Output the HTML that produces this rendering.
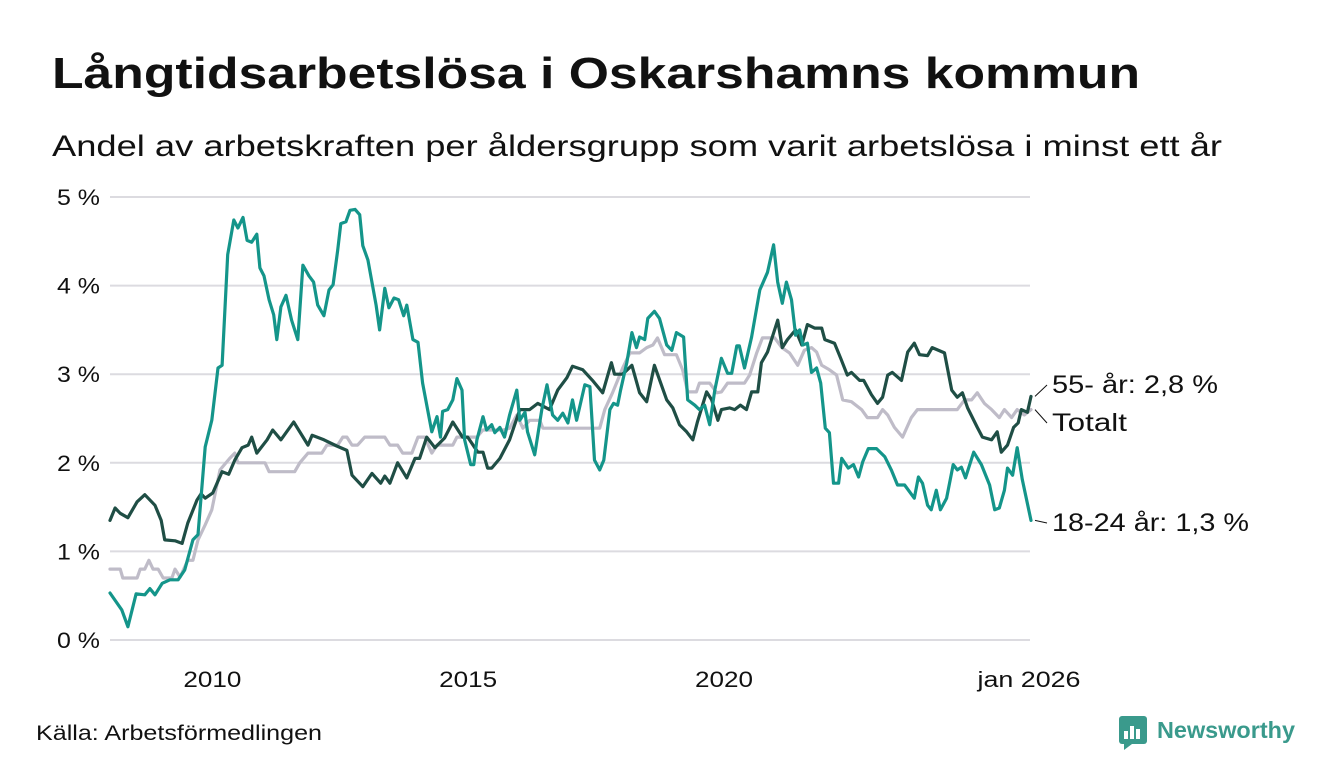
<!DOCTYPE html>
<html><head><meta charset="utf-8">
<style>
html,body{margin:0;padding:0;background:#fff;}
body{width:1340px;height:780px;overflow:hidden;font-family:"Liberation Sans","DejaVu Sans",sans-serif;color:#111;}
svg{display:block}
</style></head>
<body>
<svg id="chart" width="1340" height="780" viewBox="0 0 1340 780">
  <text x="52" y="88" font-size="44" font-weight="bold" fill="#111" textLength="1088" lengthAdjust="spacingAndGlyphs">Långtidsarbetslösa i Oskarshamns kommun</text>
  <text x="52" y="156" font-size="30" fill="#111" textLength="1170" lengthAdjust="spacingAndGlyphs">Andel av arbetskraften per åldersgrupp som varit arbetslösa i minst ett år</text>
  <g id="grid"></g>
  <g id="yticks"></g>
  <g id="xticks"></g>
  <g id="series"></g>
  <g id="labels"></g>
  <text x="36" y="740" font-size="21" fill="#111" textLength="286" lengthAdjust="spacingAndGlyphs">Källa: Arbetsförmedlingen</text>
  <g>
    <rect x="1119" y="716" width="28" height="28" rx="3" fill="#3a9a8c"/>
    <rect x="1124" y="731" width="4" height="8" fill="#fff"/>
    <rect x="1130" y="726" width="4" height="13" fill="#fff"/>
    <rect x="1136" y="729" width="4" height="10" fill="#fff"/>
    <polygon points="1124,744 1132,744 1124,750" fill="#3a9a8c"/>
    <text x="1157" y="738" font-size="23" font-weight="bold" fill="#3a9a8c" textLength="138" lengthAdjust="spacingAndGlyphs">Newsworthy</text>
  </g>
</svg>
<script>
const yTicks = [0,1,2,3,4,5];
const xTickYears = [2010,2015,2020,2026];
const xTickLabels = ["2010","2015","2020","jan 2026"];

const youngYears = [2008.00,2008.23,2008.35,2008.51,2008.68,2008.78,2008.88,2009.02,2009.17,2009.33,2009.46,2009.62,2009.72,2009.86,2009.99,2010.11,2010.19,2010.30,2010.42,2010.50,2010.60,2010.68,2010.77,2010.87,2010.93,2011.01,2011.11,2011.20,2011.26,2011.34,2011.44,2011.55,2011.67,2011.77,2011.89,2011.98,2012.06,2012.18,2012.28,2012.36,2012.45,2012.51,2012.61,2012.69,2012.79,2012.88,2012.94,2013.04,2013.20,2013.27,2013.37,2013.45,2013.55,2013.64,2013.74,2013.80,2013.92,2014.02,2014.11,2014.29,2014.39,2014.46,2014.50,2014.60,2014.70,2014.78,2014.88,2014.93,2015.05,2015.11,2015.17,2015.29,2015.36,2015.46,2015.52,2015.62,2015.71,2015.81,2015.95,2016.01,2016.11,2016.16,2016.30,2016.44,2016.54,2016.65,2016.75,2016.85,2016.95,2017.04,2017.12,2017.28,2017.38,2017.47,2017.57,2017.65,2017.77,2017.84,2017.92,2017.98,2018.10,2018.20,2018.29,2018.35,2018.45,2018.51,2018.64,2018.74,2018.88,2018.98,2019.07,2019.21,2019.29,2019.43,2019.52,2019.62,2019.72,2019.82,2019.95,2020.07,2020.15,2020.25,2020.30,2020.40,2020.54,2020.70,2020.85,2020.97,2021.05,2021.14,2021.22,2021.32,2021.40,2021.48,2021.54,2021.63,2021.71,2021.81,2021.89,2021.98,2022.06,2022.14,2022.24,2022.30,2022.43,2022.53,2022.63,2022.71,2022.82,2022.98,2023.14,2023.27,2023.39,2023.53,2023.72,2023.80,2023.88,2023.98,2024.05,2024.15,2024.23,2024.35,2024.48,2024.56,2024.64,2024.72,2024.88,2025.03,2025.19,2025.29,2025.38,2025.48,2025.54,2025.64,2025.73,2025.83,2026.00];
const youngValues = [0.53,0.34,0.15,0.52,0.51,0.58,0.51,0.64,0.68,0.68,0.79,1.13,1.19,2.18,2.48,3.07,3.10,4.35,4.74,4.65,4.77,4.51,4.49,4.58,4.20,4.11,3.84,3.67,3.39,3.76,3.89,3.61,3.39,4.23,4.11,4.04,3.78,3.66,3.95,4.01,4.40,4.70,4.72,4.85,4.86,4.80,4.45,4.29,3.78,3.50,3.97,3.75,3.86,3.84,3.66,3.78,3.39,3.36,2.90,2.35,2.52,2.29,2.58,2.60,2.71,2.95,2.82,2.26,1.98,1.98,2.26,2.52,2.37,2.43,2.34,2.40,2.29,2.54,2.82,2.48,2.57,2.35,2.09,2.60,2.88,2.54,2.48,2.56,2.45,2.71,2.48,2.88,2.86,2.03,1.92,2.03,2.60,2.67,2.65,2.82,3.13,3.47,3.30,3.42,3.39,3.63,3.71,3.63,3.33,3.27,3.47,3.42,2.71,2.65,2.60,2.65,2.43,2.82,3.18,3.01,3.01,3.32,3.32,3.07,3.42,3.95,4.15,4.46,4.04,3.80,4.04,3.84,3.44,3.50,3.33,3.35,3.02,3.07,2.90,2.39,2.34,1.77,1.77,2.05,1.94,1.98,1.84,2.01,2.16,2.16,2.07,1.92,1.75,1.75,1.60,1.84,1.77,1.52,1.47,1.69,1.47,1.60,1.98,1.92,1.95,1.83,2.12,1.98,1.75,1.47,1.49,1.69,1.94,1.86,2.17,1.81,1.35];

const olderYears = [2008.00,2008.10,2008.20,2008.35,2008.53,2008.68,2008.88,2009.00,2009.07,2009.27,2009.41,2009.52,2009.70,2009.78,2009.86,2010.01,2010.19,2010.32,2010.44,2010.58,2010.70,2010.77,2010.87,2011.07,2011.18,2011.34,2011.59,2011.87,2011.95,2012.18,2012.43,2012.63,2012.73,2012.94,2013.12,2013.29,2013.37,2013.47,2013.62,2013.80,2013.96,2014.05,2014.19,2014.35,2014.54,2014.70,2014.89,2014.99,2015.13,2015.19,2015.29,2015.38,2015.46,2015.62,2015.81,2016.01,2016.20,2016.36,2016.59,2016.75,2016.93,2017.04,2017.24,2017.43,2017.63,2017.80,2017.86,2018.02,2018.20,2018.35,2018.49,2018.64,2018.88,2019.00,2019.13,2019.27,2019.39,2019.48,2019.66,2019.76,2019.88,2019.95,2020.11,2020.21,2020.32,2020.44,2020.54,2020.66,2020.73,2020.85,2021.05,2021.14,2021.24,2021.40,2021.52,2021.63,2021.77,2021.91,2021.97,2022.16,2022.28,2022.41,2022.49,2022.65,2022.73,2022.88,2023.00,2023.10,2023.20,2023.29,2023.47,2023.59,2023.72,2023.82,2023.98,2024.07,2024.31,2024.45,2024.56,2024.66,2024.76,2024.95,2025.05,2025.23,2025.34,2025.42,2025.54,2025.66,2025.75,2025.81,2025.93,2026.00];
const olderValues = [1.35,1.49,1.43,1.38,1.56,1.64,1.52,1.35,1.13,1.12,1.09,1.32,1.58,1.65,1.60,1.66,1.90,1.87,2.03,2.17,2.20,2.29,2.11,2.26,2.37,2.26,2.46,2.20,2.31,2.26,2.19,2.14,1.86,1.73,1.88,1.77,1.85,1.77,2.00,1.83,2.05,2.05,2.29,2.17,2.28,2.46,2.29,2.29,2.17,2.12,2.12,1.94,1.94,2.05,2.26,2.60,2.60,2.67,2.60,2.82,2.96,3.09,3.05,2.93,2.79,3.13,3.00,3.00,3.10,2.79,2.69,3.10,2.71,2.62,2.43,2.35,2.26,2.46,2.80,2.71,2.48,2.60,2.62,2.60,2.65,2.60,2.80,2.80,3.13,3.25,3.61,3.30,3.39,3.50,3.33,3.56,3.52,3.52,3.39,3.35,3.18,2.99,3.02,2.93,2.93,2.77,2.67,2.74,2.99,3.02,2.93,3.25,3.35,3.22,3.21,3.30,3.24,2.82,2.74,2.79,2.62,2.40,2.29,2.26,2.35,2.12,2.20,2.40,2.45,2.60,2.57,2.75];

const totalYears = [2008.00,2008.20,2008.25,2008.53,2008.59,2008.68,2008.76,2008.84,2008.94,2009.04,2009.21,2009.27,2009.37,2009.52,2009.62,2009.72,2009.86,2009.99,2010.15,2010.34,2010.44,2010.50,2011.03,2011.11,2011.61,2011.71,2011.87,2012.14,2012.24,2012.45,2012.55,2012.63,2012.73,2012.84,2012.98,2013.37,2013.47,2013.62,2013.72,2013.90,2014.02,2014.15,2014.29,2014.39,2014.70,2014.78,2015.17,2015.29,2015.68,2015.81,2015.95,2016.07,2016.20,2016.40,2016.46,2017.57,2017.67,2017.82,2018.02,2018.16,2018.35,2018.49,2018.61,2018.70,2018.84,2019.07,2019.19,2019.29,2019.46,2019.52,2019.72,2019.86,2019.95,2020.07,2020.40,2020.50,2020.64,2020.75,2020.99,2021.13,2021.28,2021.44,2021.57,2021.71,2021.81,2021.91,2022.06,2022.20,2022.32,2022.49,2022.69,2022.80,2023.00,2023.10,2023.20,2023.33,2023.49,2023.66,2023.78,2024.56,2024.70,2024.84,2024.95,2025.09,2025.23,2025.38,2025.48,2025.62,2025.73,2025.87,2026.00];
const totalValues = [0.80,0.80,0.70,0.70,0.80,0.80,0.90,0.80,0.80,0.70,0.70,0.80,0.71,0.90,0.90,1.13,1.30,1.47,1.92,2.05,2.11,2.00,2.00,1.90,1.90,2.00,2.11,2.11,2.20,2.20,2.29,2.29,2.20,2.20,2.29,2.29,2.20,2.20,2.11,2.11,2.29,2.29,2.11,2.20,2.20,2.29,2.29,2.37,2.37,2.39,2.54,2.39,2.48,2.48,2.39,2.39,2.60,2.79,3.07,3.24,3.24,3.30,3.33,3.41,3.22,3.22,3.05,2.80,2.80,2.90,2.90,2.79,2.80,2.90,2.90,2.99,3.24,3.41,3.41,3.30,3.24,3.10,3.27,3.30,3.25,3.10,3.05,2.99,2.71,2.69,2.60,2.51,2.51,2.60,2.54,2.40,2.29,2.51,2.60,2.60,2.71,2.71,2.79,2.67,2.60,2.51,2.60,2.51,2.60,2.54,2.60];

const NS = "http://www.w3.org/2000/svg";
const X0 = 110, X1 = 1031, Y0 = 640, Y5 = 197;
function xs(yr){ return X0 + (yr - 2008) / (2026 - 2008) * (X1 - X0); }
function ys(v){ return Y0 - v / 5 * (Y0 - Y5); }
function mk(tag, attrs, parent){ const e = document.createElementNS(NS, tag); for (const k in attrs) e.setAttribute(k, attrs[k]); parent.appendChild(e); return e; }

const grid = document.getElementById('grid');
const yt = document.getElementById('yticks');
yTicks.forEach(v => {
  const l = mk('line', {x1: X0, x2: 1030, y1: ys(v), y2: ys(v), stroke: '#dcdbe0', 'stroke-width': 2}, grid);
  
  
  const t = mk('text', {x: 100, y: ys(v) + 8, 'text-anchor': 'end', 'font-size': 22, fill: '#111', textLength: 43, lengthAdjust: 'spacingAndGlyphs'}, yt);
  t.textContent = v + ' %';
  
  
});
const xt = document.getElementById('xticks');
const xtLens = [58, 58, 58, 103];
xTickYears.forEach((yr, i) => {
  const t = mk('text', {x: xs(yr) - (i === 3 ? 2 : 0), y: 687, 'text-anchor': 'middle', 'font-size': 22, fill: '#111', textLength: xtLens[i], lengthAdjust: 'spacingAndGlyphs'}, xt);
  t.textContent = xTickLabels[i];
  
  
});
const sg = document.getElementById('series');
function line(years, vals, color, name){
  const d = years.map((yr, i) => (i ? 'L' : 'M') + xs(yr).toFixed(1) + ',' + ys(vals[i]).toFixed(1)).join(' ');
  const p = mk('path', {d: d, fill: 'none', stroke: color, 'stroke-width': 3.2, 'stroke-linejoin': 'round', 'stroke-linecap': 'round'}, sg);
  
  
}
line(totalYears, totalValues, '#bfbcc8', 'line-totalt');
line(olderYears, olderValues, '#1f4e45', 'line-55-plus');
line(youngYears, youngValues, '#14958a', 'line-18-24');

const lg = document.getElementById('labels');
function lab(v, ty, text, len, name){
  const ex = xs(2026), ey = ys(v);
  const l = mk('line', {x1: ex + 4, y1: ey, x2: 1047, y2: ty - 8, stroke: '#111', 'stroke-width': 1}, lg);
  
  
  const t = mk('text', {x: 1052, y: ty, 'font-size': 25, fill: '#111', textLength: len, lengthAdjust: 'spacingAndGlyphs'}, lg);
  t.textContent = text;
  
  
}
lab(olderValues[olderValues.length - 1], 393, '55- år: 2,8 %', 166, 'label-55-plus');
lab(totalValues[totalValues.length - 1], 431, 'Totalt', 75, 'label-totalt');
lab(youngValues[youngValues.length - 1], 531, '18-24 år: 1,3 %', 197, 'label-18-24');
</script>
</body></html>
